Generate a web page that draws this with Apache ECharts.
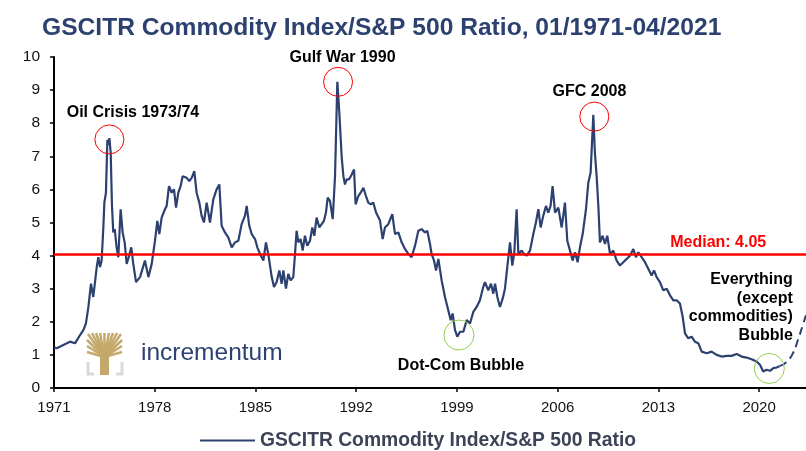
<!DOCTYPE html>
<html>
<head>
<meta charset="utf-8">
<script src="https://cdn.jsdelivr.net/npm/echarts@6/dist/echarts.min.js"></script>
<style>
html, body { margin: 0; padding: 0; background: #fff; }
#main { width: 806px; height: 451px; }
</style>
</head>
<body>
<div id="main"></div>
<script>
var chart = echarts.init(document.getElementById('main'));

// ratio data (decimal year, ratio)
var startYear = 1971;
var years = [
  1971.00, 1971.19, 1971.65, 1972.11, 1972.46, 1972.81, 1973.04, 1973.22, 1973.39, 1973.57,
  1973.73, 1973.97, 1974.08, 1974.20, 1974.31, 1974.43, 1974.50, 1974.61, 1974.71, 1974.78,
  1974.85, 1974.94, 1975.03, 1975.12, 1975.22, 1975.35, 1975.47, 1975.63, 1975.77, 1975.91,
  1976.05, 1976.19, 1976.37, 1976.51, 1976.70, 1976.98, 1977.32, 1977.56, 1977.79, 1978.02,
  1978.18, 1978.32, 1978.48, 1978.71, 1978.83, 1978.99, 1979.18, 1979.34, 1979.48, 1979.64,
  1979.80, 1979.94, 1980.22, 1980.40, 1980.57, 1980.75, 1980.91, 1981.10, 1981.26, 1981.42,
  1981.61, 1981.84, 1982.07, 1982.30, 1982.49, 1982.65, 1982.88, 1983.11, 1983.35, 1983.58,
  1983.81, 1984.04, 1984.27, 1984.39, 1984.57, 1984.74, 1984.97, 1985.13, 1985.32, 1985.55,
  1985.73, 1985.89, 1986.13, 1986.29, 1986.47, 1986.66, 1986.82, 1986.94, 1987.12, 1987.28,
  1987.45, 1987.63, 1987.75, 1987.86, 1987.98, 1988.14, 1988.28, 1988.44, 1988.60, 1988.79,
  1988.95, 1989.09, 1989.25, 1989.44, 1989.60, 1989.76, 1989.90, 1990.02, 1990.18, 1990.37,
  1990.53, 1990.69, 1990.83, 1990.99, 1991.11, 1991.22, 1991.34, 1991.50, 1991.69, 1991.85,
  1991.96, 1992.15, 1992.31, 1992.50, 1992.68, 1992.84, 1993.01, 1993.19, 1993.38, 1993.65,
  1993.84, 1994.00, 1994.23, 1994.51, 1994.70, 1994.93, 1995.16, 1995.39, 1995.62, 1995.85,
  1996.09, 1996.32, 1996.55, 1996.78, 1996.94, 1997.13, 1997.24, 1997.41, 1997.55, 1997.71,
  1997.82, 1997.94, 1998.17, 1998.40, 1998.57, 1998.70, 1998.87, 1999.03, 1999.21, 1999.45,
  1999.68, 1999.91, 2000.14, 2000.37, 2000.60, 2000.83, 2000.95, 2001.18, 2001.37, 2001.53,
  2001.65, 2001.81, 2001.99, 2002.18, 2002.34, 2002.50, 2002.69, 2002.85, 2002.99, 2003.15,
  2003.27, 2003.50, 2003.66, 2003.85, 2004.08, 2004.31, 2004.49, 2004.66, 2004.82, 2005.00,
  2005.19, 2005.35, 2005.51, 2005.65, 2005.82, 2006.05, 2006.28, 2006.51, 2006.67, 2006.86,
  2007.04, 2007.21, 2007.39, 2007.55, 2007.74, 2007.97, 2008.13, 2008.29, 2008.48, 2008.59,
  2008.71, 2008.83, 2008.94, 2009.13, 2009.29, 2009.45, 2009.64, 2009.87, 2010.10, 2010.33,
  2010.56, 2010.80, 2011.03, 2011.26, 2011.44, 2011.61, 2011.84, 2012.07, 2012.30, 2012.53,
  2012.70, 2012.88, 2013.11, 2013.34, 2013.58, 2013.81, 2014.04, 2014.27, 2014.50, 2014.69,
  2014.85, 2015.08, 2015.31, 2015.54, 2015.78, 2016.01, 2016.36, 2016.70, 2017.05, 2017.40,
  2017.74, 2018.09, 2018.44, 2018.79, 2019.13, 2019.48, 2019.83, 2020.06, 2020.29, 2020.52,
  2020.76, 2020.99, 2021.22, 2021.41
];
var ratio = [
  1.23, 1.20, 1.30, 1.40, 1.35, 1.60, 1.75, 1.95, 2.45, 3.15,
  2.75, 3.65, 3.95, 3.65, 3.85, 4.85, 5.60, 5.90, 7.50, 7.35,
  7.55, 7.10, 5.50, 4.70, 4.80, 4.25, 3.95, 5.40, 4.70, 4.40,
  3.75, 3.95, 4.25, 3.75, 3.20, 3.35, 3.85, 3.35, 3.75, 4.45,
  5.05, 4.65, 5.15, 5.40, 5.50, 6.10, 5.90, 6.00, 5.45, 5.90,
  6.10, 6.40, 6.35, 6.25, 6.35, 6.55, 5.90, 5.60, 5.20, 5.00,
  5.60, 5.00, 5.70, 6.00, 6.15, 4.90, 4.70, 4.55, 4.25, 4.40,
  4.45, 4.95, 5.20, 5.50, 4.90, 4.65, 4.50, 4.25, 4.05, 3.85,
  4.40, 4.05, 3.35, 3.05, 3.20, 3.55, 3.15, 3.55, 3.00, 3.45,
  3.25, 3.35, 4.05, 4.75, 4.40, 4.50, 4.15, 4.60, 4.30, 4.45,
  4.85, 4.60, 5.15, 4.85, 4.95, 5.05, 5.30, 5.75, 5.65, 5.10,
  6.40, 9.25, 8.30, 7.00, 6.40, 6.15, 6.30, 6.30, 6.45, 6.60,
  5.55, 5.80, 5.90, 6.05, 5.80, 5.60, 5.55, 5.60, 5.30, 5.07,
  4.50, 4.85, 4.95, 5.25, 4.65, 4.70, 4.40, 4.20, 4.05, 3.95,
  4.30, 4.75, 4.80, 4.70, 4.75, 4.35, 4.05, 3.85, 3.55, 3.90,
  3.85, 3.25, 2.75, 2.35, 2.05, 2.25, 1.75, 1.55, 1.70, 1.70,
  2.05, 1.95, 2.30, 2.45, 2.65, 3.05, 3.20, 2.95, 3.15, 2.85,
  3.15, 2.75, 2.45, 2.70, 3.00, 3.65, 4.40, 3.70, 4.10, 5.40,
  4.05, 4.15, 4.05, 4.00, 4.15, 4.65, 5.00, 5.40, 4.85, 5.20,
  5.50, 5.30, 5.50, 6.10, 5.30, 5.45, 4.85, 5.60, 4.45, 4.15,
  3.85, 4.10, 3.80, 4.25, 4.65, 5.40, 6.20, 6.50, 8.25, 7.10,
  6.40, 5.50, 4.40, 4.60, 4.35, 4.60, 4.05, 4.15, 3.85, 3.70,
  3.80, 3.90, 4.00, 4.20, 3.95, 4.10, 3.95, 3.80, 3.60, 3.40,
  3.55, 3.35, 3.20, 2.95, 3.00, 2.80, 2.65, 2.65, 2.55, 2.15,
  1.65, 1.50, 1.55, 1.40, 1.35, 1.10, 1.05, 1.10, 1.00, 0.95,
  0.97, 0.97, 1.03, 0.95, 0.92, 0.87, 0.80, 0.70, 0.50, 0.55,
  0.52, 0.60, 0.62, 0.66
];

// dashed projection at the end
var projYears = [2021.41, 2021.90, 2022.35, 2022.70, 2023.00, 2023.26];
var projRatio = [0.66, 0.78, 1.05, 1.45, 1.85, 2.20];

var median = 4.05;
var xEndYear = 2023.26;
var seriesName = 'GSCITR Commodity Index/S&P 500 Ratio';

// annotations
var redCircles = [[1974.85, 7.51], [1990.74, 9.25], [2008.55, 8.20]];
var greenCircles = [[1999.14, 1.60], [2020.71, 0.59]];
var noteTexts = ['Oil Crisis 1973/74', 'Gulf War 1990', 'GFC 2008', 'Dot-Com Bubble'];
var notePos = [[1976.49, 8.31], [1991.05, 9.97], [2008.21, 8.95], [1999.28, 0.67]];
var bubbleText = 'Everything\n(except\ncommodities)\nBubble';
var bubblePos = [2022.38, 2.43];
var medianPos = [2020.53, 4.39];

var navy = '#2c4170';
var font = "'Liberation Sans', Arial, sans-serif";

function xy(y, v) { return [y - startYear, v]; }

var lineData = years.map(function (y, i) { return xy(y, ratio[i]); });
var projData = projYears.map(function (y, i) { return xy(y, projRatio[i]); });

var marks = [];
redCircles.forEach(function (p) {
    marks.push({ coord: xy(p[0], p[1]), symbol: 'circle', symbolSize: 29,
        itemStyle: { color: 'rgba(0,0,0,0)', borderColor: '#ff0000', borderWidth: 1 },
        label: { show: false } });
});
greenCircles.forEach(function (p) {
    marks.push({ coord: xy(p[0], p[1]), symbol: 'circle', symbolSize: 30,
        itemStyle: { color: 'rgba(0,0,0,0)', borderColor: '#92d050', borderWidth: 1 },
        label: { show: false } });
});
noteTexts.forEach(function (t, i) {
    marks.push({ coord: xy(notePos[i][0], notePos[i][1]), symbol: 'circle', symbolSize: 1,
        itemStyle: { color: 'rgba(0,0,0,0)' },
        label: { show: true, position: 'inside', formatter: t, color: '#000',
            fontSize: 16, fontWeight: 'bold', fontFamily: font } });
});
marks.push({ coord: xy(bubblePos[0], bubblePos[1]), symbol: 'circle', symbolSize: 1,
    itemStyle: { color: 'rgba(0,0,0,0)' },
    label: { show: true, position: 'left', distance: 0, formatter: bubbleText, align: 'right',
        color: '#000', fontSize: 16, fontWeight: 'bold', lineHeight: 18.5, fontFamily: font } });
marks.push({ coord: xy(medianPos[0], medianPos[1]), symbol: 'circle', symbolSize: 1,
    itemStyle: { color: 'rgba(0,0,0,0)' },
    label: { show: true, position: 'left', distance: 0, formatter: 'Median: ' + median.toFixed(2),
        color: '#ff0000', fontSize: 16, fontWeight: 'bold', fontFamily: font } });

// tree of the logo: branch ends
var branchEnds = [[87, 352], [87, 346], [87, 340], [88, 334], [92, 333], [96, 333], [100, 333], [104.5, 333],
    [109, 333], [113, 333], [117, 333], [121, 334], [122, 340], [122, 346], [122, 352]];

var option = {
    animation: false,
    backgroundColor: '#fff',
    title: {
        text: 'GSCITR Commodity Index/S&P 500 Ratio, 01/1971-04/2021',
        left: 37, top: 11,
        textStyle: { color: navy, fontSize: 24.6, fontWeight: 'bold', fontFamily: font }
    },
    legend: {
        data: [seriesName],
        left: 195, top: 426,
        icon: 'rect', itemWidth: 55, itemHeight: 2, itemGap: 4,
        textStyle: { color: '#3c4357', fontSize: 19.3, fontWeight: 'bold', fontFamily: font }
    },
    grid: { left: 54, right: 0, top: 57, bottom: 63 },
    xAxis: {
        type: 'value', min: 0, max: xEndYear - startYear, interval: 7,
        axisLine: { lineStyle: { color: '#000', width: 2 } },
        axisTick: { length: 4, lineStyle: { color: '#000', width: 1.5 } },
        axisLabel: { color: '#111', fontSize: 15, fontFamily: font, margin: 12, showMaxLabel: false,
            formatter: function (v) { return String(startYear + v); } },
        splitLine: { show: false }
    },
    yAxis: {
        type: 'value', min: 0, max: 10, interval: 1,
        axisLine: { show: true, lineStyle: { color: '#000', width: 2 } },
        axisTick: { show: true, length: 4, lineStyle: { color: '#000', width: 1.5 } },
        axisLabel: { color: '#111', fontSize: 15.5, fontFamily: font, margin: 14 },
        splitLine: { show: false }
    },
    graphic: [
        // incrementum logo
        { type: 'polyline', shape: { points: [[88, 362], [88, 374], [94, 374]] }, style: { stroke: '#d9d9d9', lineWidth: 3, fill: null } },
        { type: 'polyline', shape: { points: [[122, 362], [122, 374], [116, 374]] }, style: { stroke: '#d9d9d9', lineWidth: 3, fill: null } },
        { type: 'rect', shape: { x: 100, y: 350, width: 9, height: 25 }, style: { fill: '#c4a86c' } },
        { type: 'group', children: branchEnds.map(function (p) {
            return { type: 'line', shape: { x1: 104.5, y1: 357, x2: p[0], y2: p[1] }, style: { stroke: '#c4a86c', lineWidth: 2.5 } };
        }) },
        { type: 'text', left: 141, top: 341, style: { text: 'incrementum', fill: navy, fontSize: 24.5, fontFamily: font } }
    ],
    series: [
        {
            name: seriesName, type: 'line', data: lineData,
            showSymbol: false, symbol: 'none',
            lineStyle: { color: navy, width: 2.2 },
            itemStyle: { color: navy },
            markLine: {
                silent: true, symbol: ['none', 'none'],
                label: { show: false },
                lineStyle: { color: '#ff0000', width: 2.5, type: 'solid' },
                data: [{ yAxis: median }]
            },
            markPoint: { silent: true, data: marks }
        },
        {
            name: 'projection', type: 'line', data: projData, smooth: true,
            showSymbol: false, symbol: 'none',
            lineStyle: { color: navy, width: 2, type: [8, 5] }
        }
    ]
};

chart.setOption(option);
</script>
</body>
</html>
